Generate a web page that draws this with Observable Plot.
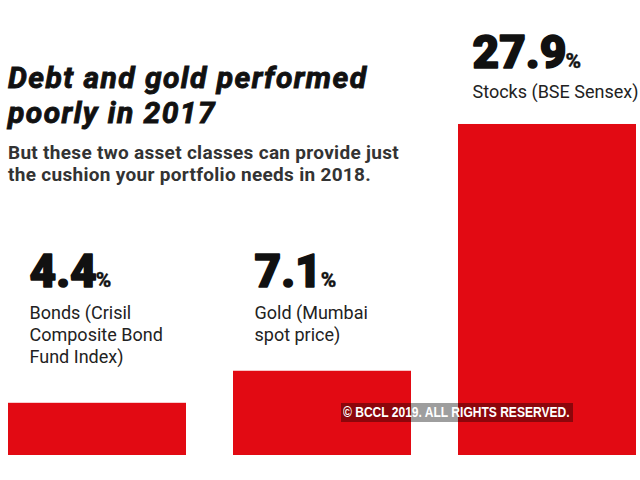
<!DOCTYPE html>
<html>
<head>
<meta charset="utf-8">
<script src="https://cdn.jsdelivr.net/npm/d3@7"></script>
<script src="https://cdn.jsdelivr.net/npm/@observablehq/plot@0.6"></script>
<style>
  html, body { margin: 0; padding: 0; background: #fff; }
  #wrap { position: relative; width: 640px; height: 480px; overflow: hidden; }
  #title { position: absolute; left: 8px; top: 60px; font-family: Roboto, sans-serif; font-weight: 700; font-style: italic;
           font-size: 30px; line-height: 35px; color: #111; letter-spacing: 1.45px; -webkit-text-stroke: 0.9px #111; }
  #subtitle { position: absolute; left: 8px; top: 142px; font-family: Roboto, sans-serif; font-weight: 700;
              font-size: 19px; line-height: 22px; color: #333; letter-spacing: 0.3px; }
  #wm { position: absolute; left: 341px; top: 403px; width: 232px; height: 19px; background: rgba(0,0,0,0.38);
        color: #fff; font-family: "Liberation Sans", Arial, sans-serif; font-weight: 700;
        font-size: 14px; line-height: 19px; white-space: nowrap; }
  #wm span { display: inline-block; transform-origin: 0 50%; transform: scaleX(0.86); margin-left: 2px; }
</style>
</head>
<body>
<div id="wrap">
  <div id="chart"></div>
  <div id="title">Debt and gold performed<br>poorly in 2017</div>
  <div id="subtitle">But these two asset classes can provide just<br>the cushion your portfolio needs in 2018.</div>
  <div id="wm"><span>© BCCL 2019. ALL RIGHTS RESERVED.</span></div>
</div>
<script>
const categories = ["Bonds", "Gold", "Stocks"];
const values = [4.4, 7.1, 27.9];
const valueLabels = ["4.4%", "7.1%", "27.9%"];
const names = ["Bonds (Crisil\nComposite Bond\nFund Index)", "Gold (Mumbai\nspot price)", "Stocks (BSE Sensex)"];

const data = categories.map((c, i) => ({category: c, value: values[i], label: valueLabels[i], name: names[i]}));
const maxV = d3.max(values);
const tall = d => d.value === maxV;
const short = d => d.value !== maxV;
const red = "#e20a13";

const bigText = {fontFamily: "Roboto", fontWeight: 900, fontSize: 46, fill: "#111", stroke: "#111", strokeWidth: 1.6};
const nameText = {fontFamily: "Roboto", fontWeight: 400, fontSize: 18, fill: "#222"};

const chart = Plot.plot({
  width: 640,
  height: 480,
  marginTop: 0,
  marginBottom: 25,
  marginLeft: 7,
  marginRight: 4,
  style: {background: "transparent", overflow: "visible"},
  x: {domain: categories, paddingInner: 0.21, paddingOuter: 0, axis: null},
  y: {domain: [0, 38.35], axis: null},
  marks: [
    Plot.barY(data, {x: "category", y: "value", fill: red}),
    // tallest bar: labels sit on the bar
    Plot.text(data, {filter: tall, x: "category", y: "value", text: "label", textAnchor: "start", dx: -75, dy: -56,
      lineAnchor: "bottom", ...bigText}),
    Plot.text(data, {filter: tall, x: "category", y: "value", text: "name", textAnchor: "start", dx: -75, dy: -26,
      lineAnchor: "bottom", ...nameText}),
    // shorter bars: labels on a common row below the subtitle
    Plot.text(data, {filter: short, x: "category", frameAnchor: "top", text: "label", textAnchor: "start", dx: -68, dy: 286,
      lineAnchor: "bottom", ...bigText}),
    Plot.text(data, {filter: short, x: "category", frameAnchor: "top", text: "name", textAnchor: "start", dx: -68, dy: 303,
      lineAnchor: "top", lineHeight: 1.22, ...nameText})
  ]
});

// shrink the "%" sign in value labels
d3.select(chart).selectAll("text").each(function() {
  const t = this.textContent;
  if (/^\d+(\.\d+)?%$/.test(t)) {
    const num = t.slice(0, -1);
    this.textContent = num;
    d3.select(this).append("tspan").attr("font-size", 21).attr("font-weight", 700)
      .attr("stroke-width", 0.5).attr("dx", -1).text("%");
  }
});

document.getElementById("chart").appendChild(chart);
</script>
</body>
</html>
